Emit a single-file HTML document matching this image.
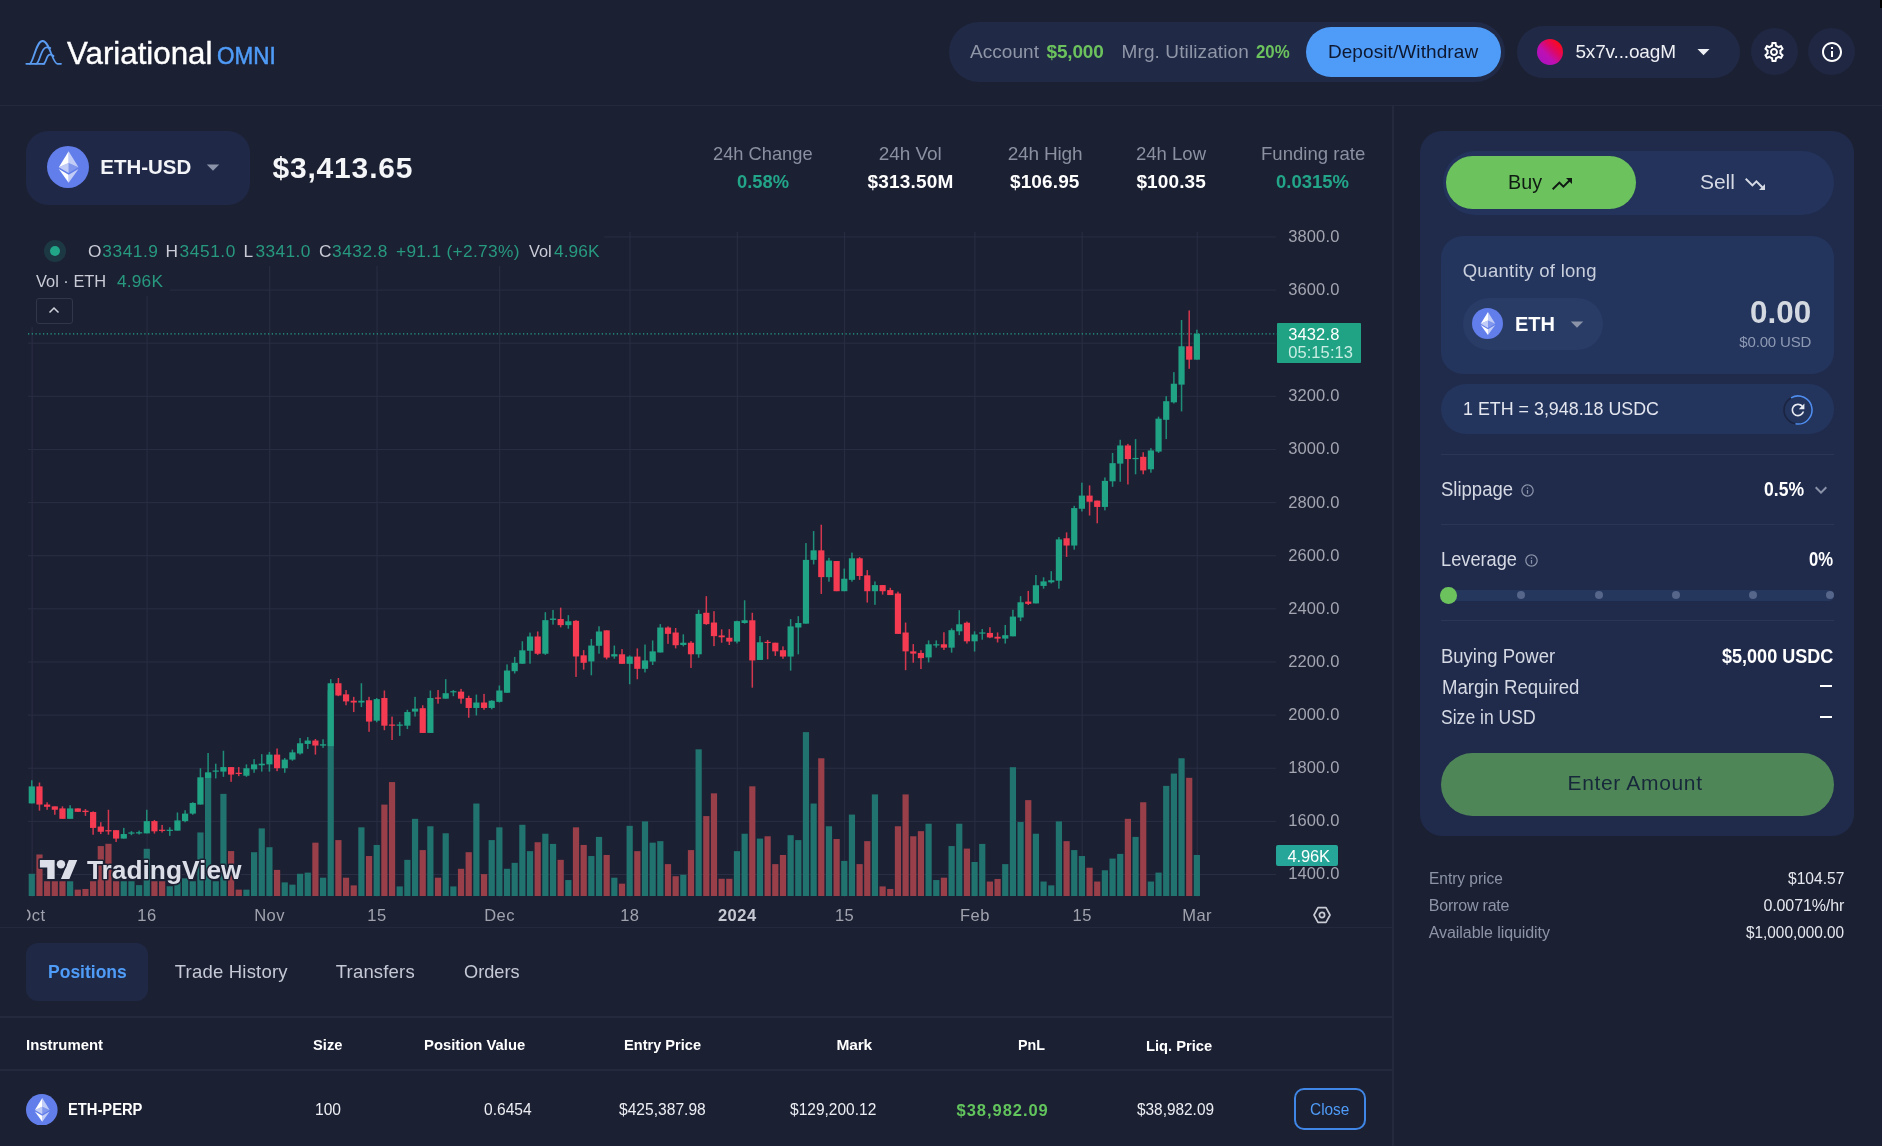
<!DOCTYPE html>
<html><head><meta charset="utf-8"><title>Variational OMNI</title>
<style>
html,body{margin:0;padding:0;background:#1c2033;}
body{width:1882px;height:1146px;position:relative;overflow:hidden;font-family:"Liberation Sans",sans-serif;}
.t{position:absolute;white-space:nowrap;line-height:1;}
.b{position:absolute;}
#w{position:absolute;left:0;top:0;width:1882px;height:1146px;will-change:transform;}
</style></head><body><div id="w">
<svg class="b" style="left:20.0px;top:32.4px;" width="60" height="40" viewBox="20 32 60 40"><g fill="none" stroke="#5a9cf2" stroke-width="1.8" stroke-linecap="round"><path d="M26.3 63.8H44.4"/><path d="M29.5 63.8C33.5 63.8 35.5 41 42.7 41C49.5 41 52.5 63.8 57.5 63.8H61"/><path d="M36 63.8C40 63.8 40.5 47.4 46.5 47.4C48 47.4 49.5 47.6 50.3 48.1"/><path d="M43 63.8C46.5 63.8 46 54.7 50 54.7C51.5 54.7 52.8 55.3 53.5 56"/></g></svg>
<div class="t" style="left:67.0px;top:37.8px;font-size:31.3px;font-weight:400;color:#ffffff;letter-spacing:-0.02px;-webkit-text-stroke:0.4px #ffffff;">Variational</div>
<div class="t" style="left:216.6px;top:44.1px;font-size:23.8px;font-weight:400;color:#4f9cf8;letter-spacing:0.00px;transform:scaleX(0.9447);transform-origin:left center;-webkit-text-stroke:0.5px #4f9cf8;">OMNI</div>
<div class="b" style="left:949.0px;top:22.0px;width:556.0px;height:60.0px;background:#202945;border-radius:30px;"></div>
<div class="t" style="left:970.0px;top:42.3px;font-size:19px;font-weight:400;color:#8f96a8;letter-spacing:0.06px;">Account</div>
<div class="t" style="left:1046.6px;top:42.3px;font-size:19px;font-weight:700;color:#6cc35e;letter-spacing:-0.18px;">$5,000</div>
<div class="t" style="left:1121.6px;top:42.3px;font-size:19px;font-weight:400;color:#8f96a8;letter-spacing:0.10px;">Mrg. Utilization</div>
<div class="t" style="left:1255.8px;top:42.3px;font-size:19px;font-weight:700;color:#6cc35e;letter-spacing:0.00px;transform:scaleX(0.8862);transform-origin:left center;">20%</div>
<div class="b" style="left:1306.0px;top:27.0px;width:194.5px;height:50.0px;background:#4f9cf8;border-radius:25px;"></div>
<div class="t" style="left:1327.9px;top:42.2px;font-size:19px;font-weight:400;color:#0e1830;letter-spacing:0.09px;">Deposit/Withdraw</div>
<div class="b" style="left:1517.0px;top:26.0px;width:223.0px;height:52.0px;background:#202945;border-radius:26px;"></div>
<div class="b" style="left:1537.0px;top:38.8px;width:26.0px;height:26.0px;background:linear-gradient(225deg,#ff0a14 12%,#e00860 38%,#bd10b4 62%,#a512c6 100%);border-radius:13px;"></div>
<div class="t" style="left:1575.4px;top:42.4px;font-size:19px;font-weight:400;color:#eef0f5;letter-spacing:-0.15px;">5x7v...oagM</div>
<svg class="b" style="left:1689.2px;top:37.0px;" width="29" height="29" viewBox="0 0 24 24"><path d="M7 10l5 5 5-5z" fill="#eef0f5"/></svg>
<div class="b" style="left:1750.8px;top:28.2px;width:47.0px;height:47.0px;background:#1f2742;border-radius:23.5px;"></div>
<svg class="b" style="left:1762.2px;top:39.7px;" width="24" height="24" viewBox="0 0 24 24"><path d="M19.43 12.98c.04-.32.07-.64.07-.98 0-.34-.03-.66-.07-.98l2.11-1.65c.19-.15.24-.42.12-.64l-2-3.46c-.09-.16-.26-.25-.44-.25-.06 0-.12.01-.17.03l-2.49 1c-.52-.4-1.08-.73-1.69-.98l-.38-2.65C14.46 2.18 14.25 2 14 2h-4c-.25 0-.46.18-.49.42l-.38 2.65c-.61.25-1.17.59-1.69.98l-2.49-1c-.06-.02-.12-.03-.18-.03-.17 0-.34.09-.43.25l-2 3.46c-.13.22-.07.49.12.64l2.11 1.65c-.04.32-.07.65-.07.98 0 .33.03.66.07.98l-2.11 1.65c-.19.15-.24.42-.12.64l2 3.46c.09.16.26.25.44.25.06 0 .12-.01.17-.03l2.49-1c.52.4 1.08.73 1.69.98l.38 2.65c.03.24.24.42.49.42h4c.25 0 .46-.18.49-.42l.38-2.65c.61-.25 1.17-.59 1.69-.98l2.49 1c.06.02.12.03.18.03.17 0 .34-.09.43-.25l2-3.46c.12-.22.07-.49-.12-.64l-2.11-1.65zm-1.98-1.71c.04.31.05.52.05.73 0 .21-.02.43-.05.73l-.14 1.13.89.7 1.08.84-.7 1.21-1.27-.51-1.04-.42-.9.68c-.43.32-.84.56-1.25.73l-1.06.43-.16 1.13-.2 1.35h-1.4l-.19-1.35-.16-1.13-1.06-.43c-.43-.18-.83-.41-1.23-.71l-.91-.7-1.06.43-1.27.51-.7-1.21 1.08-.84.89-.7-.14-1.13c-.03-.31-.05-.54-.05-.74s.02-.43.05-.73l.14-1.13-.89-.7-1.08-.84.7-1.21 1.27.51 1.04.42.9-.68c.43-.32.84-.56 1.25-.73l1.06-.43.16-1.13.2-1.35h1.39l.19 1.35.16 1.13 1.06.43c.43.18.83.41 1.23.71l.91.7 1.06-.43 1.27-.51.7 1.21-1.07.85-.89.7.14 1.13zM12 8c-2.21 0-4 1.79-4 4s1.79 4 4 4 4-1.79 4-4-1.79-4-4-4zm0 6c-1.1 0-2-.9-2-2s.9-2 2-2 2 .9 2 2-.9 2-2 2z" fill="#fff"/></svg>
<div class="b" style="left:1808.3px;top:28.2px;width:47.0px;height:47.0px;background:#1f2742;border-radius:23.5px;"></div>
<svg class="b" style="left:1820.0px;top:39.7px;" width="24" height="24" viewBox="0 0 24 24"><path d="M11 7h2v2h-2zm0 4h2v6h-2zm1-9C6.48 2 2 6.48 2 12s4.48 10 10 10 10-4.48 10-10S17.52 2 12 2zm0 18c-4.41 0-8-3.59-8-8s3.59-8 8-8 8 3.59 8 8-3.59 8-8 8z" fill="#fff"/></svg>
<div class="b" style="left:1880.0px;top:0.0px;width:2.0px;height:8.0px;background:#000;border-radius:0px;"></div>
<div class="b" style="left:0.0px;top:104.8px;width:1882.0px;height:1.4px;background:#25293e;border-radius:0px;"></div>
<div class="b" style="left:1392.3px;top:106.0px;width:1.5px;height:1040.0px;background:#25293e;border-radius:0px;"></div>
<div class="b" style="left:26.0px;top:130.5px;width:223.5px;height:74.0px;background:#1f2846;border-radius:22px;"></div>
<svg class="b" style="left:46.7px;top:146.0px;" width="42" height="42" viewBox="0 0 32 32"><circle cx="16" cy="16" r="16" fill="#627EEA"/><g fill="#FFF"><path fill-opacity=".602" d="M16.498 4v8.87l7.497 3.35z"/><path d="M16.498 4L9 16.22l7.498-3.35z"/><path fill-opacity=".602" d="M16.498 21.968v6.027L24 17.616z"/><path d="M16.498 27.995v-6.028L9 17.616z"/><path fill-opacity=".2" d="M16.498 20.573l7.497-4.353-7.497-3.348z"/><path fill-opacity=".602" d="M9 16.22l7.498 4.353v-7.701z"/></g></svg>
<div class="t" style="left:100.3px;top:156.8px;font-size:20.5px;font-weight:700;color:#f2f4f8;letter-spacing:-0.02px;">ETH-USD</div>
<svg class="b" style="left:197.9px;top:152.1px;" width="30" height="30" viewBox="0 0 24 24"><path d="M7 10l5 5 5-5z" fill="#8a93a8"/></svg>
<div class="t" style="left:272.4px;top:152.6px;font-size:30px;font-weight:700;color:#f5f6f8;letter-spacing:0.83px;">$3,413.65</div>
<div class="t" style="left:713.4px;top:144.1px;font-size:19px;font-weight:400;color:#8b90a0;letter-spacing:0.00px;transform:scaleX(0.9621);transform-origin:left center;">24h Change</div>
<div class="t" style="left:737.0px;top:172.0px;font-size:19px;font-weight:700;color:#22a588;letter-spacing:0.00px;transform:scaleX(0.9653);transform-origin:left center;">0.58%</div>
<div class="t" style="left:878.7px;top:144.1px;font-size:19px;font-weight:400;color:#8b90a0;letter-spacing:-0.06px;">24h Vol</div>
<div class="t" style="left:867.4px;top:172.0px;font-size:19px;font-weight:700;color:#ffffff;letter-spacing:0.21px;">$313.50M</div>
<div class="t" style="left:1007.7px;top:144.1px;font-size:19px;font-weight:400;color:#8b90a0;letter-spacing:-0.18px;">24h High</div>
<div class="t" style="left:1010.0px;top:172.0px;font-size:19px;font-weight:700;color:#ffffff;letter-spacing:0.12px;">$106.95</div>
<div class="t" style="left:1136.0px;top:144.1px;font-size:19px;font-weight:400;color:#8b90a0;letter-spacing:0.00px;transform:scaleX(0.9745);transform-origin:left center;">24h Low</div>
<div class="t" style="left:1136.4px;top:172.0px;font-size:19px;font-weight:700;color:#ffffff;letter-spacing:0.12px;">$100.35</div>
<div class="t" style="left:1260.5px;top:144.1px;font-size:19px;font-weight:400;color:#8b90a0;letter-spacing:0.00px;transform:scaleX(0.9768);transform-origin:left center;">Funding rate</div>
<div class="t" style="left:1276.0px;top:172.0px;font-size:19px;font-weight:700;color:#22a588;letter-spacing:0.00px;transform:scaleX(0.9733);transform-origin:left center;">0.0315%</div>
<svg class="b" style="left:0;top:0" width="1400" height="930" viewBox="0 0 1400 930"><defs><clipPath id="cp"><rect x="27" y="228" width="1250" height="670"/></clipPath></defs><g clip-path="url(#cp)"><rect x="28" y="236.44" width="1248" height="1" fill="#2a2e44"/><rect x="28" y="289.57" width="1248" height="1" fill="#2a2e44"/><rect x="28" y="342.70" width="1248" height="1" fill="#2a2e44"/><rect x="28" y="395.83" width="1248" height="1" fill="#2a2e44"/><rect x="28" y="448.96" width="1248" height="1" fill="#2a2e44"/><rect x="28" y="502.09" width="1248" height="1" fill="#2a2e44"/><rect x="28" y="555.22" width="1248" height="1" fill="#2a2e44"/><rect x="28" y="608.35" width="1248" height="1" fill="#2a2e44"/><rect x="28" y="661.48" width="1248" height="1" fill="#2a2e44"/><rect x="28" y="714.61" width="1248" height="1" fill="#2a2e44"/><rect x="28" y="767.74" width="1248" height="1" fill="#2a2e44"/><rect x="28" y="820.87" width="1248" height="1" fill="#2a2e44"/><rect x="28" y="874.00" width="1248" height="1" fill="#2a2e44"/><rect x="31.60" y="232" width="1" height="665" fill="#2a2e44"/><rect x="146.58" y="232" width="1" height="665" fill="#2a2e44"/><rect x="269.22" y="232" width="1" height="665" fill="#2a2e44"/><rect x="376.53" y="232" width="1" height="665" fill="#2a2e44"/><rect x="499.17" y="232" width="1" height="665" fill="#2a2e44"/><rect x="629.47" y="232" width="1" height="665" fill="#2a2e44"/><rect x="736.78" y="232" width="1" height="665" fill="#2a2e44"/><rect x="844.09" y="232" width="1" height="665" fill="#2a2e44"/><rect x="974.39" y="232" width="1" height="665" fill="#2a2e44"/><rect x="1081.70" y="232" width="1" height="665" fill="#2a2e44"/><rect x="1196.68" y="232" width="1" height="665" fill="#2a2e44"/><rect x="28.70" y="873.76" width="6.2" height="22.24" fill="#21736f"/><rect x="36.37" y="854.47" width="6.2" height="41.53" fill="#983f4a"/><rect x="44.03" y="881.25" width="6.2" height="14.75" fill="#983f4a"/><rect x="51.70" y="881.25" width="6.2" height="14.75" fill="#983f4a"/><rect x="59.36" y="881.25" width="6.2" height="14.75" fill="#983f4a"/><rect x="67.03" y="881.25" width="6.2" height="14.75" fill="#21736f"/><rect x="74.69" y="889.65" width="6.2" height="6.35" fill="#983f4a"/><rect x="82.36" y="888.96" width="6.2" height="7.04" fill="#983f4a"/><rect x="90.02" y="881.25" width="6.2" height="14.75" fill="#983f4a"/><rect x="97.69" y="846.07" width="6.2" height="49.93" fill="#983f4a"/><rect x="105.35" y="843.80" width="6.2" height="52.20" fill="#983f4a"/><rect x="113.02" y="881.25" width="6.2" height="14.75" fill="#983f4a"/><rect x="120.68" y="881.25" width="6.2" height="14.75" fill="#21736f"/><rect x="128.34" y="881.25" width="6.2" height="14.75" fill="#21736f"/><rect x="136.01" y="885.11" width="6.2" height="10.89" fill="#21736f"/><rect x="143.68" y="848.79" width="6.2" height="47.21" fill="#21736f"/><rect x="151.34" y="881.25" width="6.2" height="14.75" fill="#983f4a"/><rect x="159.01" y="881.25" width="6.2" height="14.75" fill="#983f4a"/><rect x="166.67" y="886.24" width="6.2" height="9.76" fill="#21736f"/><rect x="174.34" y="881.25" width="6.2" height="14.75" fill="#21736f"/><rect x="182.00" y="878.30" width="6.2" height="17.70" fill="#21736f"/><rect x="189.67" y="881.25" width="6.2" height="14.75" fill="#21736f"/><rect x="197.33" y="832.45" width="6.2" height="63.55" fill="#21736f"/><rect x="205.00" y="773.90" width="6.2" height="122.10" fill="#21736f"/><rect x="212.66" y="881.25" width="6.2" height="14.75" fill="#21736f"/><rect x="220.33" y="793.87" width="6.2" height="102.13" fill="#21736f"/><rect x="227.99" y="851.06" width="6.2" height="44.94" fill="#983f4a"/><rect x="235.66" y="889.65" width="6.2" height="6.35" fill="#983f4a"/><rect x="243.32" y="889.65" width="6.2" height="6.35" fill="#21736f"/><rect x="250.99" y="852.20" width="6.2" height="43.80" fill="#21736f"/><rect x="258.65" y="828.37" width="6.2" height="67.63" fill="#21736f"/><rect x="266.31" y="847.21" width="6.2" height="48.79" fill="#21736f"/><rect x="273.98" y="869.90" width="6.2" height="26.10" fill="#983f4a"/><rect x="281.64" y="882.38" width="6.2" height="13.62" fill="#21736f"/><rect x="289.31" y="884.65" width="6.2" height="11.35" fill="#21736f"/><rect x="296.97" y="873.76" width="6.2" height="22.24" fill="#21736f"/><rect x="304.64" y="872.62" width="6.2" height="23.38" fill="#21736f"/><rect x="312.31" y="842.67" width="6.2" height="53.33" fill="#983f4a"/><rect x="319.97" y="877.70" width="6.2" height="18.30" fill="#21736f"/><rect x="327.63" y="690.24" width="6.2" height="205.76" fill="#21736f"/><rect x="335.30" y="840.09" width="6.2" height="55.91" fill="#983f4a"/><rect x="342.96" y="877.70" width="6.2" height="18.30" fill="#983f4a"/><rect x="350.63" y="885.36" width="6.2" height="10.64" fill="#983f4a"/><rect x="358.30" y="827.33" width="6.2" height="68.67" fill="#21736f"/><rect x="365.96" y="856.03" width="6.2" height="39.97" fill="#983f4a"/><rect x="373.62" y="844.97" width="6.2" height="51.03" fill="#21736f"/><rect x="381.29" y="804.59" width="6.2" height="91.41" fill="#983f4a"/><rect x="388.95" y="782.06" width="6.2" height="113.94" fill="#983f4a"/><rect x="396.62" y="886.42" width="6.2" height="9.58" fill="#21736f"/><rect x="404.28" y="859.85" width="6.2" height="36.15" fill="#21736f"/><rect x="411.95" y="818.83" width="6.2" height="77.17" fill="#21736f"/><rect x="419.62" y="850.07" width="6.2" height="45.93" fill="#983f4a"/><rect x="427.28" y="826.27" width="6.2" height="69.73" fill="#21736f"/><rect x="434.94" y="877.70" width="6.2" height="18.30" fill="#983f4a"/><rect x="442.61" y="833.28" width="6.2" height="62.72" fill="#21736f"/><rect x="450.27" y="886.42" width="6.2" height="9.58" fill="#21736f"/><rect x="457.94" y="868.78" width="6.2" height="27.22" fill="#983f4a"/><rect x="465.61" y="852.20" width="6.2" height="43.80" fill="#983f4a"/><rect x="473.27" y="803.53" width="6.2" height="92.47" fill="#21736f"/><rect x="480.94" y="874.09" width="6.2" height="21.91" fill="#983f4a"/><rect x="488.60" y="840.09" width="6.2" height="55.91" fill="#21736f"/><rect x="496.26" y="827.33" width="6.2" height="68.67" fill="#21736f"/><rect x="503.93" y="868.78" width="6.2" height="27.22" fill="#21736f"/><rect x="511.59" y="862.83" width="6.2" height="33.17" fill="#21736f"/><rect x="519.26" y="824.78" width="6.2" height="71.22" fill="#21736f"/><rect x="526.92" y="851.14" width="6.2" height="44.86" fill="#21736f"/><rect x="534.59" y="842.21" width="6.2" height="53.79" fill="#983f4a"/><rect x="542.25" y="833.71" width="6.2" height="62.29" fill="#21736f"/><rect x="549.92" y="843.91" width="6.2" height="52.09" fill="#21736f"/><rect x="557.58" y="859.85" width="6.2" height="36.15" fill="#983f4a"/><rect x="565.25" y="880.04" width="6.2" height="15.96" fill="#21736f"/><rect x="572.91" y="827.33" width="6.2" height="68.67" fill="#983f4a"/><rect x="580.58" y="844.97" width="6.2" height="51.03" fill="#983f4a"/><rect x="588.24" y="856.03" width="6.2" height="39.97" fill="#21736f"/><rect x="595.91" y="836.90" width="6.2" height="59.10" fill="#21736f"/><rect x="603.57" y="854.96" width="6.2" height="41.04" fill="#983f4a"/><rect x="611.24" y="877.70" width="6.2" height="18.30" fill="#21736f"/><rect x="618.90" y="883.66" width="6.2" height="12.34" fill="#983f4a"/><rect x="626.57" y="825.84" width="6.2" height="70.16" fill="#21736f"/><rect x="634.23" y="851.14" width="6.2" height="44.86" fill="#983f4a"/><rect x="641.90" y="821.38" width="6.2" height="74.62" fill="#21736f"/><rect x="649.56" y="842.64" width="6.2" height="53.36" fill="#21736f"/><rect x="657.23" y="841.15" width="6.2" height="54.85" fill="#21736f"/><rect x="664.89" y="864.10" width="6.2" height="31.90" fill="#983f4a"/><rect x="672.56" y="876.22" width="6.2" height="19.78" fill="#983f4a"/><rect x="680.22" y="874.73" width="6.2" height="21.27" fill="#21736f"/><rect x="687.89" y="850.07" width="6.2" height="45.93" fill="#983f4a"/><rect x="695.55" y="749.33" width="6.2" height="146.67" fill="#21736f"/><rect x="703.22" y="816.07" width="6.2" height="79.93" fill="#983f4a"/><rect x="710.88" y="793.33" width="6.2" height="102.67" fill="#983f4a"/><rect x="718.55" y="878.77" width="6.2" height="17.23" fill="#983f4a"/><rect x="726.21" y="878.77" width="6.2" height="17.23" fill="#983f4a"/><rect x="733.88" y="851.14" width="6.2" height="44.86" fill="#21736f"/><rect x="741.54" y="833.71" width="6.2" height="62.29" fill="#21736f"/><rect x="749.21" y="786.31" width="6.2" height="109.69" fill="#983f4a"/><rect x="756.87" y="838.60" width="6.2" height="57.40" fill="#21736f"/><rect x="764.54" y="836.26" width="6.2" height="59.74" fill="#983f4a"/><rect x="772.20" y="864.10" width="6.2" height="31.90" fill="#983f4a"/><rect x="779.87" y="854.96" width="6.2" height="41.04" fill="#983f4a"/><rect x="787.53" y="835.20" width="6.2" height="60.80" fill="#21736f"/><rect x="795.20" y="840.09" width="6.2" height="55.91" fill="#21736f"/><rect x="802.86" y="732.11" width="6.2" height="163.89" fill="#21736f"/><rect x="810.53" y="803.53" width="6.2" height="92.47" fill="#21736f"/><rect x="818.19" y="758.26" width="6.2" height="137.74" fill="#983f4a"/><rect x="825.86" y="826.27" width="6.2" height="69.73" fill="#21736f"/><rect x="833.52" y="839.02" width="6.2" height="56.98" fill="#983f4a"/><rect x="841.19" y="860.91" width="6.2" height="35.09" fill="#21736f"/><rect x="848.85" y="814.58" width="6.2" height="81.42" fill="#21736f"/><rect x="856.52" y="864.10" width="6.2" height="31.90" fill="#983f4a"/><rect x="864.18" y="841.15" width="6.2" height="54.85" fill="#983f4a"/><rect x="871.85" y="794.39" width="6.2" height="101.61" fill="#21736f"/><rect x="879.51" y="886.42" width="6.2" height="9.58" fill="#983f4a"/><rect x="887.18" y="888.97" width="6.2" height="7.03" fill="#983f4a"/><rect x="894.84" y="826.27" width="6.2" height="69.73" fill="#983f4a"/><rect x="902.51" y="794.39" width="6.2" height="101.61" fill="#983f4a"/><rect x="910.17" y="836.26" width="6.2" height="59.74" fill="#983f4a"/><rect x="917.84" y="831.16" width="6.2" height="64.84" fill="#983f4a"/><rect x="925.50" y="823.72" width="6.2" height="72.28" fill="#21736f"/><rect x="933.17" y="880.04" width="6.2" height="15.96" fill="#21736f"/><rect x="940.83" y="877.70" width="6.2" height="18.30" fill="#983f4a"/><rect x="948.50" y="846.04" width="6.2" height="49.96" fill="#21736f"/><rect x="956.16" y="823.72" width="6.2" height="72.28" fill="#21736f"/><rect x="963.83" y="848.59" width="6.2" height="47.41" fill="#983f4a"/><rect x="971.49" y="861.98" width="6.2" height="34.02" fill="#21736f"/><rect x="979.16" y="843.91" width="6.2" height="52.09" fill="#21736f"/><rect x="986.82" y="881.53" width="6.2" height="14.47" fill="#983f4a"/><rect x="994.49" y="878.98" width="6.2" height="17.02" fill="#983f4a"/><rect x="1002.15" y="864.10" width="6.2" height="31.90" fill="#21736f"/><rect x="1009.82" y="767.18" width="6.2" height="128.82" fill="#21736f"/><rect x="1017.48" y="822.02" width="6.2" height="73.98" fill="#21736f"/><rect x="1025.15" y="800.13" width="6.2" height="95.87" fill="#983f4a"/><rect x="1032.82" y="833.71" width="6.2" height="62.29" fill="#21736f"/><rect x="1040.48" y="881.53" width="6.2" height="14.47" fill="#21736f"/><rect x="1048.15" y="885.36" width="6.2" height="10.64" fill="#21736f"/><rect x="1055.81" y="821.38" width="6.2" height="74.62" fill="#21736f"/><rect x="1063.48" y="841.15" width="6.2" height="54.85" fill="#983f4a"/><rect x="1071.14" y="850.07" width="6.2" height="45.93" fill="#21736f"/><rect x="1078.81" y="856.03" width="6.2" height="39.97" fill="#21736f"/><rect x="1086.47" y="867.72" width="6.2" height="28.28" fill="#983f4a"/><rect x="1094.13" y="881.53" width="6.2" height="14.47" fill="#983f4a"/><rect x="1101.80" y="870.27" width="6.2" height="25.73" fill="#21736f"/><rect x="1109.47" y="858.58" width="6.2" height="37.42" fill="#21736f"/><rect x="1117.13" y="853.90" width="6.2" height="42.10" fill="#21736f"/><rect x="1124.80" y="818.83" width="6.2" height="77.17" fill="#983f4a"/><rect x="1132.46" y="836.90" width="6.2" height="59.10" fill="#21736f"/><rect x="1140.12" y="802.25" width="6.2" height="93.75" fill="#983f4a"/><rect x="1147.79" y="881.53" width="6.2" height="14.47" fill="#21736f"/><rect x="1155.46" y="872.60" width="6.2" height="23.40" fill="#21736f"/><rect x="1163.12" y="785.89" width="6.2" height="110.11" fill="#21736f"/><rect x="1170.79" y="773.56" width="6.2" height="122.44" fill="#21736f"/><rect x="1178.45" y="758.26" width="6.2" height="137.74" fill="#21736f"/><rect x="1186.12" y="777.81" width="6.2" height="118.19" fill="#983f4a"/><rect x="1193.78" y="854.96" width="6.2" height="41.04" fill="#21736f"/><rect x="31.05" y="780.26" width="1.5" height="23.15" fill="#20a285" opacity="0.85"/><rect x="28.70" y="786.38" width="6.2" height="17.02" fill="#20a285"/><rect x="38.72" y="782.52" width="1.5" height="28.14" fill="#f53b52" opacity="0.85"/><rect x="36.37" y="786.38" width="6.2" height="18.16" fill="#f53b52"/><rect x="46.38" y="802.27" width="1.5" height="7.49" fill="#f53b52" opacity="0.85"/><rect x="44.03" y="804.54" width="6.2" height="2.27" fill="#f53b52"/><rect x="54.05" y="806.35" width="1.5" height="8.40" fill="#f53b52" opacity="0.85"/><rect x="51.70" y="806.35" width="6.2" height="3.40" fill="#f53b52"/><rect x="61.71" y="806.35" width="1.5" height="12.48" fill="#f53b52" opacity="0.85"/><rect x="59.36" y="808.40" width="6.2" height="10.44" fill="#f53b52"/><rect x="69.38" y="805.22" width="1.5" height="13.62" fill="#20a285" opacity="0.85"/><rect x="67.03" y="808.40" width="6.2" height="10.44" fill="#20a285"/><rect x="77.04" y="808.40" width="1.5" height="3.40" fill="#f53b52" opacity="0.85"/><rect x="74.69" y="808.40" width="6.2" height="3.40" fill="#f53b52"/><rect x="84.70" y="809.08" width="1.5" height="6.81" fill="#f53b52" opacity="0.85"/><rect x="82.36" y="810.67" width="6.2" height="1.36" fill="#f53b52"/><rect x="92.37" y="811.35" width="1.5" height="23.38" fill="#f53b52" opacity="0.85"/><rect x="90.02" y="812.03" width="6.2" height="15.89" fill="#f53b52"/><rect x="100.03" y="822.24" width="1.5" height="11.80" fill="#f53b52" opacity="0.85"/><rect x="97.69" y="826.55" width="6.2" height="5.22" fill="#f53b52"/><rect x="107.70" y="809.76" width="1.5" height="24.96" fill="#f53b52" opacity="0.85"/><rect x="105.35" y="830.18" width="6.2" height="1.20" fill="#f53b52"/><rect x="115.36" y="830.18" width="1.5" height="11.80" fill="#f53b52" opacity="0.85"/><rect x="113.02" y="830.18" width="6.2" height="8.40" fill="#f53b52"/><rect x="123.03" y="827.91" width="1.5" height="10.67" fill="#20a285" opacity="0.85"/><rect x="120.68" y="834.04" width="6.2" height="4.54" fill="#20a285"/><rect x="130.69" y="831.09" width="1.5" height="4.09" fill="#20a285" opacity="0.85"/><rect x="128.34" y="832.45" width="6.2" height="1.20" fill="#20a285"/><rect x="138.36" y="830.64" width="1.5" height="3.86" fill="#20a285" opacity="0.85"/><rect x="136.01" y="832.23" width="6.2" height="1.20" fill="#20a285"/><rect x="146.03" y="809.76" width="1.5" height="23.60" fill="#20a285" opacity="0.85"/><rect x="143.68" y="821.11" width="6.2" height="12.26" fill="#20a285"/><rect x="153.69" y="819.97" width="1.5" height="13.62" fill="#f53b52" opacity="0.85"/><rect x="151.34" y="821.11" width="6.2" height="10.21" fill="#f53b52"/><rect x="161.36" y="824.96" width="1.5" height="7.49" fill="#f53b52" opacity="0.85"/><rect x="159.01" y="829.73" width="6.2" height="1.20" fill="#f53b52"/><rect x="169.02" y="827.23" width="1.5" height="8.62" fill="#20a285" opacity="0.85"/><rect x="166.67" y="829.73" width="6.2" height="1.20" fill="#20a285"/><rect x="176.69" y="812.48" width="1.5" height="18.16" fill="#20a285" opacity="0.85"/><rect x="174.34" y="820.43" width="6.2" height="10.21" fill="#20a285"/><rect x="184.35" y="810.21" width="1.5" height="12.03" fill="#20a285" opacity="0.85"/><rect x="182.00" y="813.62" width="6.2" height="7.49" fill="#20a285"/><rect x="192.02" y="802.27" width="1.5" height="12.48" fill="#20a285" opacity="0.85"/><rect x="189.67" y="802.95" width="6.2" height="10.67" fill="#20a285"/><rect x="199.68" y="768.23" width="1.5" height="36.31" fill="#20a285" opacity="0.85"/><rect x="197.33" y="777.30" width="6.2" height="27.23" fill="#20a285"/><rect x="207.34" y="753.02" width="1.5" height="24.96" fill="#20a285" opacity="0.85"/><rect x="205.00" y="772.31" width="6.2" height="5.67" fill="#20a285"/><rect x="215.01" y="763.69" width="1.5" height="14.75" fill="#20a285" opacity="0.85"/><rect x="212.66" y="770.50" width="6.2" height="1.20" fill="#20a285"/><rect x="222.68" y="750.75" width="1.5" height="26.10" fill="#20a285" opacity="0.85"/><rect x="220.33" y="767.09" width="6.2" height="4.54" fill="#20a285"/><rect x="230.34" y="767.09" width="1.5" height="14.75" fill="#f53b52" opacity="0.85"/><rect x="227.99" y="767.09" width="6.2" height="7.49" fill="#f53b52"/><rect x="238.01" y="767.09" width="1.5" height="9.08" fill="#f53b52" opacity="0.85"/><rect x="235.66" y="772.77" width="6.2" height="1.20" fill="#f53b52"/><rect x="245.67" y="764.37" width="1.5" height="12.48" fill="#20a285" opacity="0.85"/><rect x="243.32" y="768.23" width="6.2" height="7.49" fill="#20a285"/><rect x="253.34" y="759.15" width="1.5" height="13.62" fill="#20a285" opacity="0.85"/><rect x="250.99" y="764.37" width="6.2" height="4.99" fill="#20a285"/><rect x="261.00" y="754.16" width="1.5" height="17.48" fill="#20a285" opacity="0.85"/><rect x="258.65" y="763.69" width="6.2" height="1.59" fill="#20a285"/><rect x="268.67" y="751.89" width="1.5" height="19.74" fill="#20a285" opacity="0.85"/><rect x="266.31" y="754.61" width="6.2" height="9.76" fill="#20a285"/><rect x="276.33" y="748.48" width="1.5" height="22.70" fill="#f53b52" opacity="0.85"/><rect x="273.98" y="754.61" width="6.2" height="13.62" fill="#f53b52"/><rect x="284.00" y="758.01" width="1.5" height="14.75" fill="#20a285" opacity="0.85"/><rect x="281.64" y="759.60" width="6.2" height="8.62" fill="#20a285"/><rect x="291.66" y="749.62" width="1.5" height="11.12" fill="#20a285" opacity="0.85"/><rect x="289.31" y="752.34" width="6.2" height="7.26" fill="#20a285"/><rect x="299.32" y="738.04" width="1.5" height="16.57" fill="#20a285" opacity="0.85"/><rect x="296.97" y="743.26" width="6.2" height="10.21" fill="#20a285"/><rect x="306.99" y="737.13" width="1.5" height="11.80" fill="#20a285" opacity="0.85"/><rect x="304.64" y="740.54" width="6.2" height="3.40" fill="#20a285"/><rect x="314.66" y="738.95" width="1.5" height="15.66" fill="#f53b52" opacity="0.85"/><rect x="312.31" y="740.54" width="6.2" height="4.99" fill="#f53b52"/><rect x="322.32" y="739.29" width="1.5" height="8.62" fill="#20a285" opacity="0.85"/><rect x="319.97" y="744.28" width="6.2" height="1.36" fill="#20a285"/><rect x="329.99" y="679.15" width="1.5" height="66.95" fill="#20a285" opacity="0.85"/><rect x="327.63" y="683.23" width="6.2" height="62.87" fill="#20a285"/><rect x="337.65" y="678.01" width="1.5" height="18.16" fill="#f53b52" opacity="0.85"/><rect x="335.30" y="683.23" width="6.2" height="12.26" fill="#f53b52"/><rect x="345.31" y="690.04" width="1.5" height="15.21" fill="#f53b52" opacity="0.85"/><rect x="342.96" y="694.35" width="6.2" height="7.04" fill="#f53b52"/><rect x="352.98" y="696.85" width="1.5" height="15.21" fill="#f53b52" opacity="0.85"/><rect x="350.63" y="700.71" width="6.2" height="1.82" fill="#f53b52"/><rect x="360.65" y="683.23" width="1.5" height="23.83" fill="#20a285" opacity="0.85"/><rect x="358.30" y="700.71" width="6.2" height="1.82" fill="#20a285"/><rect x="368.31" y="696.85" width="1.5" height="34.95" fill="#f53b52" opacity="0.85"/><rect x="365.96" y="700.26" width="6.2" height="21.33" fill="#f53b52"/><rect x="375.98" y="697.99" width="1.5" height="24.28" fill="#20a285" opacity="0.85"/><rect x="373.62" y="699.12" width="6.2" height="21.56" fill="#20a285"/><rect x="383.64" y="690.50" width="1.5" height="39.72" fill="#f53b52" opacity="0.85"/><rect x="381.29" y="697.99" width="6.2" height="27.69" fill="#f53b52"/><rect x="391.31" y="716.60" width="1.5" height="23.38" fill="#f53b52" opacity="0.85"/><rect x="388.95" y="724.54" width="6.2" height="1.20" fill="#f53b52"/><rect x="398.97" y="721.82" width="1.5" height="14.07" fill="#20a285" opacity="0.85"/><rect x="396.62" y="724.54" width="6.2" height="1.20" fill="#20a285"/><rect x="406.63" y="709.79" width="1.5" height="19.29" fill="#20a285" opacity="0.85"/><rect x="404.28" y="712.06" width="6.2" height="13.62" fill="#20a285"/><rect x="414.30" y="696.85" width="1.5" height="19.74" fill="#20a285" opacity="0.85"/><rect x="411.95" y="708.65" width="6.2" height="2.95" fill="#20a285"/><rect x="421.97" y="705.25" width="1.5" height="27.69" fill="#f53b52" opacity="0.85"/><rect x="419.62" y="708.20" width="6.2" height="24.74" fill="#f53b52"/><rect x="429.63" y="690.50" width="1.5" height="42.44" fill="#20a285" opacity="0.85"/><rect x="427.28" y="697.99" width="6.2" height="34.95" fill="#20a285"/><rect x="437.30" y="690.04" width="1.5" height="13.62" fill="#f53b52" opacity="0.85"/><rect x="434.94" y="697.53" width="6.2" height="1.20" fill="#f53b52"/><rect x="444.96" y="679.15" width="1.5" height="19.52" fill="#20a285" opacity="0.85"/><rect x="442.61" y="693.22" width="6.2" height="5.45" fill="#20a285"/><rect x="452.62" y="690.04" width="1.5" height="6.13" fill="#20a285" opacity="0.85"/><rect x="450.27" y="691.18" width="6.2" height="1.20" fill="#20a285"/><rect x="460.29" y="688.91" width="1.5" height="14.75" fill="#f53b52" opacity="0.85"/><rect x="457.94" y="691.63" width="6.2" height="7.04" fill="#f53b52"/><rect x="467.96" y="695.72" width="1.5" height="22.01" fill="#f53b52" opacity="0.85"/><rect x="465.61" y="697.99" width="6.2" height="9.99" fill="#f53b52"/><rect x="475.62" y="694.58" width="1.5" height="20.88" fill="#20a285" opacity="0.85"/><rect x="473.27" y="702.52" width="6.2" height="5.45" fill="#20a285"/><rect x="483.29" y="693.90" width="1.5" height="15.89" fill="#f53b52" opacity="0.85"/><rect x="480.94" y="702.52" width="6.2" height="5.45" fill="#f53b52"/><rect x="490.95" y="700.26" width="1.5" height="9.08" fill="#20a285" opacity="0.85"/><rect x="488.60" y="700.71" width="6.2" height="7.26" fill="#20a285"/><rect x="498.62" y="685.50" width="1.5" height="17.02" fill="#20a285" opacity="0.85"/><rect x="496.26" y="690.50" width="6.2" height="11.35" fill="#20a285"/><rect x="506.28" y="664.40" width="1.5" height="28.37" fill="#20a285" opacity="0.85"/><rect x="503.93" y="670.52" width="6.2" height="22.24" fill="#20a285"/><rect x="513.94" y="656.91" width="1.5" height="16.57" fill="#20a285" opacity="0.85"/><rect x="511.59" y="662.81" width="6.2" height="8.40" fill="#20a285"/><rect x="521.61" y="641.25" width="1.5" height="22.47" fill="#20a285" opacity="0.85"/><rect x="519.26" y="650.33" width="6.2" height="13.39" fill="#20a285"/><rect x="529.27" y="632.62" width="1.5" height="31.09" fill="#20a285" opacity="0.85"/><rect x="526.92" y="636.48" width="6.2" height="14.30" fill="#20a285"/><rect x="536.94" y="631.49" width="1.5" height="23.38" fill="#f53b52" opacity="0.85"/><rect x="534.59" y="636.48" width="6.2" height="17.25" fill="#f53b52"/><rect x="544.60" y="612.20" width="1.5" height="42.67" fill="#20a285" opacity="0.85"/><rect x="542.25" y="620.14" width="6.2" height="33.59" fill="#20a285"/><rect x="552.27" y="609.93" width="1.5" height="14.75" fill="#20a285" opacity="0.85"/><rect x="549.92" y="618.55" width="6.2" height="1.36" fill="#20a285"/><rect x="559.93" y="607.66" width="1.5" height="19.74" fill="#f53b52" opacity="0.85"/><rect x="557.58" y="619.01" width="6.2" height="6.13" fill="#f53b52"/><rect x="567.60" y="615.15" width="1.5" height="13.62" fill="#20a285" opacity="0.85"/><rect x="565.25" y="621.28" width="6.2" height="3.86" fill="#20a285"/><rect x="575.26" y="620.14" width="1.5" height="56.74" fill="#f53b52" opacity="0.85"/><rect x="572.91" y="620.82" width="6.2" height="35.63" fill="#f53b52"/><rect x="582.93" y="650.10" width="1.5" height="19.52" fill="#f53b52" opacity="0.85"/><rect x="580.58" y="655.32" width="6.2" height="7.49" fill="#f53b52"/><rect x="590.59" y="638.98" width="1.5" height="36.31" fill="#20a285" opacity="0.85"/><rect x="588.24" y="645.56" width="6.2" height="15.89" fill="#20a285"/><rect x="598.26" y="626.27" width="1.5" height="27.46" fill="#20a285" opacity="0.85"/><rect x="595.91" y="631.49" width="6.2" height="14.30" fill="#20a285"/><rect x="605.92" y="630.35" width="1.5" height="29.05" fill="#f53b52" opacity="0.85"/><rect x="603.57" y="630.35" width="6.2" height="27.23" fill="#f53b52"/><rect x="613.59" y="645.56" width="1.5" height="13.16" fill="#20a285" opacity="0.85"/><rect x="611.24" y="654.18" width="6.2" height="2.27" fill="#20a285"/><rect x="621.25" y="649.08" width="1.5" height="14.75" fill="#f53b52" opacity="0.85"/><rect x="618.90" y="654.30" width="6.2" height="9.53" fill="#f53b52"/><rect x="628.92" y="655.43" width="1.5" height="28.82" fill="#20a285" opacity="0.85"/><rect x="626.57" y="656.57" width="6.2" height="7.26" fill="#20a285"/><rect x="636.58" y="648.40" width="1.5" height="30.87" fill="#f53b52" opacity="0.85"/><rect x="634.23" y="656.57" width="6.2" height="12.26" fill="#f53b52"/><rect x="644.25" y="644.54" width="1.5" height="27.91" fill="#20a285" opacity="0.85"/><rect x="641.90" y="660.43" width="6.2" height="8.40" fill="#20a285"/><rect x="651.91" y="640.45" width="1.5" height="24.51" fill="#20a285" opacity="0.85"/><rect x="649.56" y="651.35" width="6.2" height="10.21" fill="#20a285"/><rect x="659.58" y="624.11" width="1.5" height="28.37" fill="#20a285" opacity="0.85"/><rect x="657.23" y="627.52" width="6.2" height="24.96" fill="#20a285"/><rect x="667.25" y="626.38" width="1.5" height="17.48" fill="#f53b52" opacity="0.85"/><rect x="664.89" y="627.52" width="6.2" height="6.35" fill="#f53b52"/><rect x="674.91" y="627.97" width="1.5" height="20.43" fill="#f53b52" opacity="0.85"/><rect x="672.56" y="632.51" width="6.2" height="12.71" fill="#f53b52"/><rect x="682.57" y="634.33" width="1.5" height="12.03" fill="#20a285" opacity="0.85"/><rect x="680.22" y="642.72" width="6.2" height="2.27" fill="#20a285"/><rect x="690.24" y="641.13" width="1.5" height="26.78" fill="#f53b52" opacity="0.85"/><rect x="687.89" y="642.72" width="6.2" height="11.57" fill="#f53b52"/><rect x="697.90" y="609.82" width="1.5" height="47.89" fill="#20a285" opacity="0.85"/><rect x="695.55" y="613.90" width="6.2" height="40.40" fill="#20a285"/><rect x="705.57" y="596.20" width="1.5" height="28.60" fill="#f53b52" opacity="0.85"/><rect x="703.22" y="612.77" width="6.2" height="11.35" fill="#f53b52"/><rect x="713.24" y="611.18" width="1.5" height="34.95" fill="#f53b52" opacity="0.85"/><rect x="710.88" y="622.52" width="6.2" height="13.62" fill="#f53b52"/><rect x="720.90" y="629.33" width="1.5" height="13.39" fill="#f53b52" opacity="0.85"/><rect x="718.55" y="635.46" width="6.2" height="1.82" fill="#f53b52"/><rect x="728.56" y="629.11" width="1.5" height="15.89" fill="#f53b52" opacity="0.85"/><rect x="726.21" y="637.73" width="6.2" height="3.86" fill="#f53b52"/><rect x="736.23" y="620.71" width="1.5" height="22.70" fill="#20a285" opacity="0.85"/><rect x="733.88" y="621.16" width="6.2" height="20.43" fill="#20a285"/><rect x="743.89" y="600.28" width="1.5" height="23.38" fill="#20a285" opacity="0.85"/><rect x="741.54" y="620.26" width="6.2" height="2.72" fill="#20a285"/><rect x="751.56" y="612.77" width="1.5" height="74.89" fill="#f53b52" opacity="0.85"/><rect x="749.21" y="620.26" width="6.2" height="40.17" fill="#f53b52"/><rect x="759.22" y="636.14" width="1.5" height="23.83" fill="#20a285" opacity="0.85"/><rect x="756.87" y="642.27" width="6.2" height="17.70" fill="#20a285"/><rect x="766.89" y="640.00" width="1.5" height="19.29" fill="#f53b52" opacity="0.85"/><rect x="764.54" y="641.82" width="6.2" height="1.20" fill="#f53b52"/><rect x="774.55" y="642.72" width="1.5" height="13.16" fill="#f53b52" opacity="0.85"/><rect x="772.20" y="642.72" width="6.2" height="8.62" fill="#f53b52"/><rect x="782.22" y="646.35" width="1.5" height="12.48" fill="#f53b52" opacity="0.85"/><rect x="779.87" y="650.21" width="6.2" height="6.35" fill="#f53b52"/><rect x="789.88" y="619.12" width="1.5" height="51.52" fill="#20a285" opacity="0.85"/><rect x="787.53" y="626.38" width="6.2" height="30.18" fill="#20a285"/><rect x="797.55" y="616.17" width="1.5" height="38.13" fill="#20a285" opacity="0.85"/><rect x="795.20" y="622.98" width="6.2" height="4.54" fill="#20a285"/><rect x="805.21" y="543.09" width="1.5" height="80.57" fill="#20a285" opacity="0.85"/><rect x="802.86" y="559.89" width="6.2" height="63.77" fill="#20a285"/><rect x="812.88" y="531.06" width="1.5" height="33.36" fill="#20a285" opacity="0.85"/><rect x="810.53" y="550.35" width="6.2" height="9.53" fill="#20a285"/><rect x="820.54" y="524.71" width="1.5" height="69.22" fill="#f53b52" opacity="0.85"/><rect x="818.19" y="550.35" width="6.2" height="26.78" fill="#f53b52"/><rect x="828.21" y="557.84" width="1.5" height="23.83" fill="#20a285" opacity="0.85"/><rect x="825.86" y="560.57" width="6.2" height="16.57" fill="#20a285"/><rect x="835.88" y="561.02" width="1.5" height="30.18" fill="#f53b52" opacity="0.85"/><rect x="833.52" y="561.02" width="6.2" height="30.18" fill="#f53b52"/><rect x="843.54" y="568.51" width="1.5" height="22.70" fill="#20a285" opacity="0.85"/><rect x="841.19" y="578.72" width="6.2" height="12.48" fill="#20a285"/><rect x="851.20" y="552.62" width="1.5" height="29.05" fill="#20a285" opacity="0.85"/><rect x="848.85" y="558.30" width="6.2" height="21.56" fill="#20a285"/><rect x="858.87" y="557.16" width="1.5" height="22.70" fill="#f53b52" opacity="0.85"/><rect x="856.52" y="558.30" width="6.2" height="17.70" fill="#f53b52"/><rect x="866.53" y="570.10" width="1.5" height="32.45" fill="#f53b52" opacity="0.85"/><rect x="864.18" y="575.32" width="6.2" height="15.89" fill="#f53b52"/><rect x="874.20" y="581.45" width="1.5" height="23.38" fill="#20a285" opacity="0.85"/><rect x="871.85" y="585.08" width="6.2" height="6.13" fill="#20a285"/><rect x="881.87" y="585.08" width="1.5" height="9.53" fill="#f53b52" opacity="0.85"/><rect x="879.51" y="585.08" width="6.2" height="6.13" fill="#f53b52"/><rect x="889.53" y="587.80" width="1.5" height="7.26" fill="#f53b52" opacity="0.85"/><rect x="887.18" y="590.07" width="6.2" height="4.99" fill="#f53b52"/><rect x="897.19" y="591.66" width="1.5" height="42.21" fill="#f53b52" opacity="0.85"/><rect x="894.84" y="593.48" width="6.2" height="40.40" fill="#f53b52"/><rect x="904.86" y="622.52" width="1.5" height="47.66" fill="#f53b52" opacity="0.85"/><rect x="902.51" y="632.51" width="6.2" height="18.84" fill="#f53b52"/><rect x="912.52" y="644.09" width="1.5" height="18.61" fill="#f53b52" opacity="0.85"/><rect x="910.17" y="651.35" width="6.2" height="2.27" fill="#f53b52"/><rect x="920.19" y="650.21" width="1.5" height="18.84" fill="#f53b52" opacity="0.85"/><rect x="917.84" y="652.94" width="6.2" height="5.22" fill="#f53b52"/><rect x="927.85" y="640.40" width="1.5" height="22.01" fill="#20a285" opacity="0.85"/><rect x="925.50" y="644.26" width="6.2" height="13.16" fill="#20a285"/><rect x="935.52" y="640.40" width="1.5" height="7.26" fill="#20a285" opacity="0.85"/><rect x="933.17" y="644.26" width="6.2" height="1.20" fill="#20a285"/><rect x="943.18" y="632.23" width="1.5" height="17.70" fill="#f53b52" opacity="0.85"/><rect x="940.83" y="644.26" width="6.2" height="3.40" fill="#f53b52"/><rect x="950.85" y="628.37" width="1.5" height="24.28" fill="#20a285" opacity="0.85"/><rect x="948.50" y="630.18" width="6.2" height="17.48" fill="#20a285"/><rect x="958.51" y="610.21" width="1.5" height="24.96" fill="#20a285" opacity="0.85"/><rect x="956.16" y="624.28" width="6.2" height="7.04" fill="#20a285"/><rect x="966.18" y="621.56" width="1.5" height="22.01" fill="#f53b52" opacity="0.85"/><rect x="963.83" y="622.70" width="6.2" height="18.61" fill="#f53b52"/><rect x="973.84" y="631.32" width="1.5" height="20.20" fill="#20a285" opacity="0.85"/><rect x="971.49" y="634.50" width="6.2" height="6.81" fill="#20a285"/><rect x="981.51" y="629.05" width="1.5" height="10.67" fill="#20a285" opacity="0.85"/><rect x="979.16" y="632.45" width="6.2" height="1.20" fill="#20a285"/><rect x="989.17" y="627.23" width="1.5" height="10.89" fill="#f53b52" opacity="0.85"/><rect x="986.82" y="632.91" width="6.2" height="4.54" fill="#f53b52"/><rect x="996.84" y="632.45" width="1.5" height="9.99" fill="#f53b52" opacity="0.85"/><rect x="994.49" y="636.77" width="6.2" height="1.82" fill="#f53b52"/><rect x="1004.50" y="624.96" width="1.5" height="18.61" fill="#20a285" opacity="0.85"/><rect x="1002.15" y="635.18" width="6.2" height="3.40" fill="#20a285"/><rect x="1012.17" y="609.76" width="1.5" height="26.55" fill="#20a285" opacity="0.85"/><rect x="1009.82" y="616.57" width="6.2" height="19.74" fill="#20a285"/><rect x="1019.83" y="596.14" width="1.5" height="24.96" fill="#20a285" opacity="0.85"/><rect x="1017.48" y="602.27" width="6.2" height="15.21" fill="#20a285"/><rect x="1027.50" y="590.92" width="1.5" height="14.07" fill="#f53b52" opacity="0.85"/><rect x="1025.15" y="601.59" width="6.2" height="2.27" fill="#f53b52"/><rect x="1035.16" y="575.04" width="1.5" height="28.37" fill="#20a285" opacity="0.85"/><rect x="1032.82" y="585.25" width="6.2" height="18.16" fill="#20a285"/><rect x="1042.83" y="577.30" width="1.5" height="11.35" fill="#20a285" opacity="0.85"/><rect x="1040.48" y="581.39" width="6.2" height="4.54" fill="#20a285"/><rect x="1050.50" y="571.18" width="1.5" height="12.26" fill="#20a285" opacity="0.85"/><rect x="1048.15" y="580.26" width="6.2" height="2.04" fill="#20a285"/><rect x="1058.16" y="537.13" width="1.5" height="51.52" fill="#20a285" opacity="0.85"/><rect x="1055.81" y="539.40" width="6.2" height="41.30" fill="#20a285"/><rect x="1065.83" y="532.37" width="1.5" height="24.51" fill="#f53b52" opacity="0.85"/><rect x="1063.48" y="538.27" width="6.2" height="7.26" fill="#f53b52"/><rect x="1073.49" y="505.82" width="1.5" height="43.80" fill="#20a285" opacity="0.85"/><rect x="1071.14" y="508.09" width="6.2" height="37.45" fill="#20a285"/><rect x="1081.15" y="482.67" width="1.5" height="28.82" fill="#20a285" opacity="0.85"/><rect x="1078.81" y="495.60" width="6.2" height="13.16" fill="#20a285"/><rect x="1088.82" y="485.39" width="1.5" height="30.18" fill="#f53b52" opacity="0.85"/><rect x="1086.47" y="495.60" width="6.2" height="6.13" fill="#f53b52"/><rect x="1096.48" y="500.60" width="1.5" height="22.70" fill="#f53b52" opacity="0.85"/><rect x="1094.13" y="500.60" width="6.2" height="6.35" fill="#f53b52"/><rect x="1104.15" y="477.45" width="1.5" height="32.91" fill="#20a285" opacity="0.85"/><rect x="1101.80" y="480.85" width="6.2" height="26.10" fill="#20a285"/><rect x="1111.82" y="452.95" width="1.5" height="33.82" fill="#20a285" opacity="0.85"/><rect x="1109.47" y="463.16" width="6.2" height="18.16" fill="#20a285"/><rect x="1119.48" y="439.79" width="1.5" height="41.99" fill="#20a285" opacity="0.85"/><rect x="1117.13" y="445.46" width="6.2" height="18.16" fill="#20a285"/><rect x="1127.14" y="443.87" width="1.5" height="40.62" fill="#f53b52" opacity="0.85"/><rect x="1124.80" y="445.46" width="6.2" height="13.62" fill="#f53b52"/><rect x="1134.81" y="439.11" width="1.5" height="35.18" fill="#20a285" opacity="0.85"/><rect x="1132.46" y="457.94" width="6.2" height="1.20" fill="#20a285"/><rect x="1142.47" y="452.27" width="1.5" height="22.01" fill="#f53b52" opacity="0.85"/><rect x="1140.12" y="456.81" width="6.2" height="13.62" fill="#f53b52"/><rect x="1150.14" y="448.18" width="1.5" height="24.51" fill="#20a285" opacity="0.85"/><rect x="1147.79" y="450.45" width="6.2" height="18.84" fill="#20a285"/><rect x="1157.81" y="416.64" width="1.5" height="36.31" fill="#20a285" opacity="0.85"/><rect x="1155.46" y="418.68" width="6.2" height="32.91" fill="#20a285"/><rect x="1165.47" y="396.21" width="1.5" height="42.89" fill="#20a285" opacity="0.85"/><rect x="1163.12" y="401.21" width="6.2" height="18.61" fill="#20a285"/><rect x="1173.13" y="372.16" width="1.5" height="31.32" fill="#20a285" opacity="0.85"/><rect x="1170.79" y="383.73" width="6.2" height="18.61" fill="#20a285"/><rect x="1180.80" y="319.96" width="1.5" height="91.46" fill="#20a285" opacity="0.85"/><rect x="1178.45" y="346.28" width="6.2" height="38.35" fill="#20a285"/><rect x="1188.46" y="310.43" width="1.5" height="58.33" fill="#f53b52" opacity="0.85"/><rect x="1186.12" y="346.28" width="6.2" height="13.39" fill="#f53b52"/><rect x="1196.13" y="329.72" width="1.5" height="29.96" fill="#20a285" opacity="0.85"/><rect x="1193.78" y="333.80" width="6.2" height="25.87" fill="#20a285"/><line x1="28" y1="333.8" x2="1277" y2="333.8" stroke="#20a285" stroke-width="1.3" stroke-dasharray="1.25 2.5"/></g></svg>
<div class="t" style="left:1288.2px;top:227.8px;font-size:16.5px;font-weight:400;color:#a3a6b1;letter-spacing:0.13px;">3800.0</div>
<div class="t" style="left:1288.2px;top:280.9px;font-size:16.5px;font-weight:400;color:#a3a6b1;letter-spacing:0.13px;">3600.0</div>
<div class="t" style="left:1288.2px;top:334.1px;font-size:16.5px;font-weight:400;color:#a3a6b1;letter-spacing:0.13px;">3400.0</div>
<div class="t" style="left:1288.2px;top:387.2px;font-size:16.5px;font-weight:400;color:#a3a6b1;letter-spacing:0.13px;">3200.0</div>
<div class="t" style="left:1288.2px;top:440.3px;font-size:16.5px;font-weight:400;color:#a3a6b1;letter-spacing:0.13px;">3000.0</div>
<div class="t" style="left:1288.2px;top:493.5px;font-size:16.5px;font-weight:400;color:#a3a6b1;letter-spacing:0.13px;">2800.0</div>
<div class="t" style="left:1288.2px;top:546.6px;font-size:16.5px;font-weight:400;color:#a3a6b1;letter-spacing:0.13px;">2600.0</div>
<div class="t" style="left:1288.2px;top:599.7px;font-size:16.5px;font-weight:400;color:#a3a6b1;letter-spacing:0.13px;">2400.0</div>
<div class="t" style="left:1288.2px;top:652.9px;font-size:16.5px;font-weight:400;color:#a3a6b1;letter-spacing:0.13px;">2200.0</div>
<div class="t" style="left:1288.2px;top:706.0px;font-size:16.5px;font-weight:400;color:#a3a6b1;letter-spacing:0.13px;">2000.0</div>
<div class="t" style="left:1288.2px;top:759.1px;font-size:16.5px;font-weight:400;color:#a3a6b1;letter-spacing:0.13px;">1800.0</div>
<div class="t" style="left:1288.2px;top:812.2px;font-size:16.5px;font-weight:400;color:#a3a6b1;letter-spacing:0.13px;">1600.0</div>
<div class="t" style="left:1288.2px;top:865.4px;font-size:16.5px;font-weight:400;color:#a3a6b1;letter-spacing:0.13px;">1400.0</div>
<div class="b" style="left:1276.5px;top:323.0px;width:84.5px;height:39.5px;background:#20a384;border-radius:1px;"></div>
<div class="t" style="left:1288.2px;top:326.2px;font-size:16.5px;font-weight:400;color:#fff;letter-spacing:0.13px;">3432.8</div>
<div class="t" style="left:1288.2px;top:343.7px;font-size:16.5px;font-weight:400;color:#c9ece3;letter-spacing:0.08px;">05:15:13</div>
<div class="b" style="left:1276.0px;top:845.1px;width:62.0px;height:21.3px;background:#26a698;border-radius:2px;"></div>
<div class="t" style="left:1287.5px;top:847.9px;font-size:16.5px;font-weight:400;color:#fff;letter-spacing:-0.15px;">4.96K</div>
<div class="t" style="left:18.5px;top:906.6px;font-size:16.5px;font-weight:400;color:#a0a3ae;letter-spacing:0.5px;clip-path:inset(0 0 0 8.5px);">Oct</div>
<div class="t" style="left:137.3px;top:906.6px;font-size:16.5px;font-weight:400;color:#a0a3ae;letter-spacing:0.5px;">16</div>
<div class="t" style="left:254.2px;top:906.6px;font-size:16.5px;font-weight:400;color:#a0a3ae;letter-spacing:0.5px;">Nov</div>
<div class="t" style="left:367.3px;top:906.6px;font-size:16.5px;font-weight:400;color:#a0a3ae;letter-spacing:0.5px;">15</div>
<div class="t" style="left:484.2px;top:906.6px;font-size:16.5px;font-weight:400;color:#a0a3ae;letter-spacing:0.5px;">Dec</div>
<div class="t" style="left:620.2px;top:906.6px;font-size:16.5px;font-weight:400;color:#a0a3ae;letter-spacing:0.5px;">18</div>
<div class="t" style="left:717.9px;top:906.6px;font-size:16.5px;font-weight:700;color:#c5c8d2;letter-spacing:0.5px;">2024</div>
<div class="t" style="left:834.9px;top:906.6px;font-size:16.5px;font-weight:400;color:#a0a3ae;letter-spacing:0.5px;">15</div>
<div class="t" style="left:959.9px;top:906.6px;font-size:16.5px;font-weight:400;color:#a0a3ae;letter-spacing:0.5px;">Feb</div>
<div class="t" style="left:1072.5px;top:906.6px;font-size:16.5px;font-weight:400;color:#a0a3ae;letter-spacing:0.5px;">15</div>
<div class="t" style="left:1182.2px;top:906.6px;font-size:16.5px;font-weight:400;color:#a0a3ae;letter-spacing:0.5px;">Mar</div>
<svg class="b" style="left:1311.0px;top:904.0px;" width="22" height="22" viewBox="0 0 22 22"><g fill="none" stroke="#c8cbd4" stroke-width="1.7"><path d="M7 3.6h8l4 7.4-4 7.4H7L3 11z" stroke-linejoin="round"/><circle cx="11" cy="11" r="2.6"/></g></svg>
<div class="b" style="left:27.0px;top:232.0px;width:577.0px;height:34.0px;background:#1c2033;border-radius:0px;"></div>
<div class="b" style="left:27.0px;top:266.0px;width:143.0px;height:30.0px;background:#1c2033;border-radius:0px;"></div>
<div class="b" style="left:27.0px;top:296.0px;width:48.0px;height:31.0px;background:#1c2033;border-radius:0px;"></div>
<div class="b" style="left:44.0px;top:239.5px;width:22.0px;height:22.0px;background:rgba(34,166,136,0.18);border-radius:11px;"></div>
<div class="b" style="left:50.0px;top:245.5px;width:10.0px;height:10.0px;background:#22a688;border-radius:5px;"></div>
<div class="t" style="left:88.1px;top:242.5px;font-size:17.3px;font-weight:400;color:#c9ccd6;letter-spacing:0.00px;">O</div>
<div class="t" style="left:102.3px;top:242.5px;font-size:17.3px;font-weight:400;color:#27997f;letter-spacing:0.56px;">3341.9</div>
<div class="t" style="left:165.5px;top:242.5px;font-size:17.3px;font-weight:400;color:#c9ccd6;letter-spacing:0.00px;">H</div>
<div class="t" style="left:179.6px;top:242.5px;font-size:17.3px;font-weight:400;color:#27997f;letter-spacing:0.58px;">3451.0</div>
<div class="t" style="left:243.6px;top:242.5px;font-size:17.3px;font-weight:400;color:#c9ccd6;letter-spacing:0.00px;">L</div>
<div class="t" style="left:255.5px;top:242.5px;font-size:17.3px;font-weight:400;color:#27997f;letter-spacing:0.42px;">3341.0</div>
<div class="t" style="left:319.0px;top:242.5px;font-size:17.3px;font-weight:400;color:#c9ccd6;letter-spacing:0.00px;">C</div>
<div class="t" style="left:332.0px;top:242.5px;font-size:17.3px;font-weight:400;color:#27997f;letter-spacing:0.52px;">3432.8</div>
<div class="t" style="left:396.0px;top:242.5px;font-size:17.3px;font-weight:400;color:#27997f;letter-spacing:0.33px;">+91.1 (+2.73%)</div>
<div class="t" style="left:528.8px;top:242.5px;font-size:17.3px;font-weight:400;color:#c9ccd6;letter-spacing:0.00px;transform:scaleX(0.9439);transform-origin:left center;">Vol</div>
<div class="t" style="left:554.0px;top:242.5px;font-size:17.3px;font-weight:400;color:#27997f;letter-spacing:0.07px;">4.96K</div>
<div class="t" style="left:36.4px;top:272.9px;font-size:17.3px;font-weight:400;color:#c9ccd6;letter-spacing:0.00px;transform:scaleX(0.9497);transform-origin:left center;">Vol · ETH</div>
<div class="t" style="left:117.0px;top:272.9px;font-size:17.3px;font-weight:400;color:#27997f;letter-spacing:0.20px;">4.96K</div>
<div class="b" style="left:35.8px;top:297.8px;width:35px;height:24.4px;border:1px solid #32364b;border-radius:3px;box-sizing:content-box"></div>
<svg class="b" style="left:44.3px;top:300.3px;" width="20" height="20" viewBox="0 0 20 20"><path d="M5.5 12.5L10 8l4.5 4.5" fill="none" stroke="#d0d3dc" stroke-width="1.5"/></svg>
<svg class="b" style="left:30.0px;top:850.0px;" width="230" height="45" viewBox="30 850 230 45"><g stroke="#1c2033" stroke-width="3.2" stroke-linejoin="round" paint-order="stroke" fill="#dcdee8"><g transform="translate(39.9,855.8) scale(1.053)"><path d="M14 22H7V11H0V4h14v18zM28 22h-8l7.5-18h8L28 22z"/><circle cx="20" cy="8" r="4"/></g><text x="87" y="879" font-family="Liberation Sans, sans-serif" font-weight="700" font-size="26.5" textLength="154.5" lengthAdjust="spacingAndGlyphs">TradingView</text></g></svg>
<div class="b" style="left:0.0px;top:926.6px;width:1393.0px;height:1.4px;background:#25293e;border-radius:0px;"></div>
<div class="b" style="left:26.0px;top:942.5px;width:122.0px;height:58.5px;background:#1f2946;border-radius:12px;"></div>
<div class="t" style="left:47.6px;top:962.8px;font-size:18.5px;font-weight:700;color:#4f9cf8;letter-spacing:0.00px;transform:scaleX(0.9465);transform-origin:left center;">Positions</div>
<div class="t" style="left:174.8px;top:962.8px;font-size:18.5px;font-weight:400;color:#c5c9d6;letter-spacing:0.20px;">Trade History</div>
<div class="t" style="left:335.8px;top:962.8px;font-size:18.5px;font-weight:400;color:#c5c9d6;letter-spacing:0.18px;">Transfers</div>
<div class="t" style="left:463.7px;top:962.8px;font-size:18.5px;font-weight:400;color:#c5c9d6;letter-spacing:0.00px;transform:scaleX(0.9817);transform-origin:left center;">Orders</div>
<div class="b" style="left:0.0px;top:1016.3px;width:1393.0px;height:1.4px;background:#25293e;border-radius:0px;"></div>
<div class="b" style="left:0.0px;top:1069.3px;width:1393.0px;height:1.4px;background:#25293e;border-radius:0px;"></div>
<div class="t" style="left:26.0px;top:1037.1px;font-size:15.5px;font-weight:700;color:#ffffff;letter-spacing:0.00px;transform:scaleX(0.9615);transform-origin:left center;">Instrument</div>
<div class="t" style="left:313.1px;top:1037.1px;font-size:15.5px;font-weight:700;color:#ffffff;letter-spacing:0.00px;transform:scaleX(0.9479);transform-origin:left center;">Size</div>
<div class="t" style="left:424.3px;top:1037.1px;font-size:15.5px;font-weight:700;color:#ffffff;letter-spacing:0.00px;transform:scaleX(0.9553);transform-origin:left center;">Position Value</div>
<div class="t" style="left:624.0px;top:1037.1px;font-size:15.5px;font-weight:700;color:#ffffff;letter-spacing:0.00px;transform:scaleX(0.9408);transform-origin:left center;">Entry Price</div>
<div class="t" style="left:836.5px;top:1037.1px;font-size:15.5px;font-weight:700;color:#ffffff;letter-spacing:-0.16px;">Mark</div>
<div class="t" style="left:1018.0px;top:1037.1px;font-size:15.5px;font-weight:700;color:#ffffff;letter-spacing:0.00px;transform:scaleX(0.9223);transform-origin:left center;">PnL</div>
<div class="t" style="left:1146.3px;top:1038.3px;font-size:15.5px;font-weight:700;color:#ffffff;letter-spacing:0.00px;transform:scaleX(0.9488);transform-origin:left center;">Liq. Price</div>
<svg class="b" style="left:26.0px;top:1093.9px;" width="31.6" height="31.6" viewBox="0 0 32 32"><circle cx="16" cy="16" r="16" fill="#627EEA"/><g fill="#FFF"><path fill-opacity=".602" d="M16.498 4v8.87l7.497 3.35z"/><path d="M16.498 4L9 16.22l7.498-3.35z"/><path fill-opacity=".602" d="M16.498 21.968v6.027L24 17.616z"/><path d="M16.498 27.995v-6.028L9 17.616z"/><path fill-opacity=".2" d="M16.498 20.573l7.497-4.353-7.497-3.348z"/><path fill-opacity=".602" d="M9 16.22l7.498 4.353v-7.701z"/></g></svg>
<div class="t" style="left:68.0px;top:1102.0px;font-size:16px;font-weight:700;color:#fff;letter-spacing:0.00px;transform:scaleX(0.9197);transform-origin:left center;">ETH-PERP</div>
<div class="t" style="left:315.4px;top:1102.0px;font-size:16px;font-weight:400;color:#eceef3;letter-spacing:0.00px;transform:scaleX(0.9741);transform-origin:left center;">100</div>
<div class="t" style="left:483.8px;top:1102.0px;font-size:16px;font-weight:400;color:#eceef3;letter-spacing:0.00px;transform:scaleX(0.9728);transform-origin:left center;">0.6454</div>
<div class="t" style="left:619.2px;top:1102.0px;font-size:16px;font-weight:400;color:#eceef3;letter-spacing:0.00px;transform:scaleX(0.9756);transform-origin:left center;">$425,387.98</div>
<div class="t" style="left:789.6px;top:1102.0px;font-size:16px;font-weight:400;color:#eceef3;letter-spacing:0.00px;transform:scaleX(0.9700);transform-origin:left center;">$129,200.12</div>
<div class="t" style="left:956.6px;top:1102.2px;font-size:16.5px;font-weight:700;color:#62c45c;letter-spacing:0.95px;">$38,982.09</div>
<div class="t" style="left:1136.6px;top:1102.0px;font-size:16px;font-weight:400;color:#eceef3;letter-spacing:0.00px;transform:scaleX(0.9617);transform-origin:left center;">$38,982.09</div>
<div class="b" style="left:1294.3px;top:1088.3px;width:67.5px;height:38px;border:2px solid #3f86e6;border-radius:10px;box-sizing:content-box"></div>
<div class="t" style="left:1310.3px;top:1101.8px;font-size:16px;font-weight:400;color:#4f9cf8;letter-spacing:0.00px;transform:scaleX(0.9632);transform-origin:left center;">Close</div>
<div class="b" style="left:1420.0px;top:130.5px;width:433.5px;height:705.5px;background:#202b4c;border-radius:22px;"></div>
<div class="b" style="left:1443.0px;top:150.5px;width:391.3px;height:64.8px;background:#23335b;border-radius:33px;"></div>
<div class="b" style="left:1446.0px;top:156.2px;width:190.0px;height:53.3px;background:#6cc35e;border-radius:27px;"></div>
<div class="t" style="left:1508.0px;top:171.0px;font-size:21px;font-weight:400;color:#0f1a12;letter-spacing:0.00px;transform:scaleX(0.9396);transform-origin:left center;">Buy</div>
<svg class="b" style="left:1549.8px;top:172.2px;" width="24" height="24" viewBox="0 0 24 24"><path d="M16 6l2.29 2.29-4.88 4.88-4-4L2 16.59 3.41 18l6-6 4 4 6.3-6.29L22 12V6z" fill="#0f1a12"/></svg>
<div class="t" style="left:1700.0px;top:171.0px;font-size:21px;font-weight:400;color:#d5d9e4;letter-spacing:-0.07px;">Sell</div>
<svg class="b" style="left:1742.5px;top:171.5px;" width="24" height="24" viewBox="0 0 24 24"><path d="M16 18l2.29-2.29-4.88-4.88-4 4L2 7.41 3.41 6l6 6 4-4 6.3 6.29L22 12v6z" fill="#d5d9e4"/></svg>
<div class="b" style="left:1441.0px;top:235.5px;width:393.3px;height:138.0px;background:#24355d;border-radius:22px;"></div>
<div class="t" style="left:1462.7px;top:261.5px;font-size:18.5px;font-weight:400;color:#c9cfdd;letter-spacing:0.28px;">Quantity of long</div>
<div class="b" style="left:1462.7px;top:297.5px;width:140.6px;height:52.5px;background:#293c66;border-radius:26px;"></div>
<svg class="b" style="left:1472.0px;top:307.9px;" width="31" height="31" viewBox="0 0 32 32"><circle cx="16" cy="16" r="16" fill="#627EEA"/><g fill="#FFF"><path fill-opacity=".602" d="M16.498 4v8.87l7.497 3.35z"/><path d="M16.498 4L9 16.22l7.498-3.35z"/><path fill-opacity=".602" d="M16.498 21.968v6.027L24 17.616z"/><path d="M16.498 27.995v-6.028L9 17.616z"/><path fill-opacity=".2" d="M16.498 20.573l7.497-4.353-7.497-3.348z"/><path fill-opacity=".602" d="M9 16.22l7.498 4.353v-7.701z"/></g></svg>
<div class="t" style="left:1514.7px;top:313.1px;font-size:21px;font-weight:700;color:#fff;letter-spacing:0.00px;transform:scaleX(0.9524);transform-origin:left center;">ETH</div>
<svg class="b" style="left:1562.0px;top:308.9px;" width="30" height="30" viewBox="0 0 24 24"><path d="M7 10l5 5 5-5z" fill="#8a93a8"/></svg>
<div class="t" style="left:1750.2px;top:296.3px;font-size:32px;font-weight:700;color:#d4d8e0;letter-spacing:0.00px;transform:scaleX(0.9811);transform-origin:left center;">0.00</div>
<div class="t" style="left:1739.3px;top:334.1px;font-size:15px;font-weight:400;color:#8e9ab4;letter-spacing:-0.17px;">$0.00 USD</div>
<div class="b" style="left:1441.0px;top:384.0px;width:392.5px;height:50.0px;background:#24355d;border-radius:25px;"></div>
<div class="t" style="left:1462.7px;top:399.6px;font-size:18.5px;font-weight:400;color:#e3e6ef;letter-spacing:0.00px;transform:scaleX(0.9651);transform-origin:left center;">1 ETH = 3,948.18 USDC</div>
<svg class="b" style="left:1782.0px;top:393.5px;" width="32" height="32" viewBox="0 0 32 32"><circle cx="16" cy="16" r="14" fill="none" stroke="#1b2440" stroke-width="1.6"/><path d="M9 3.9A14 14 0 1 1 13.5 29.8" fill="none" stroke="#4f8ef0" stroke-width="1.6"/><g transform="translate(6.4,6.4) scale(0.8)"><path d="M17.65 6.35C16.2 4.9 14.21 4 12 4c-4.42 0-7.99 3.58-7.99 8s3.57 8 7.99 8c3.73 0 6.84-2.55 7.73-6h-2.08c-.82 2.33-3.04 4-5.65 4-3.31 0-6-2.69-6-6s2.69-6 6-6c1.66 0 3.14.69 4.22 1.78L13 11h7V4l-2.35 2.35z" fill="#e8ebf2"/></g></svg>
<div class="b" style="left:1441.0px;top:453.5px;width:392.5px;height:1.0px;background:#2a3558;border-radius:0px;"></div>
<div class="t" style="left:1441.4px;top:480.4px;font-size:19.5px;font-weight:400;color:#d5d9e4;letter-spacing:0.00px;transform:scaleX(0.9487);transform-origin:left center;">Slippage</div>
<svg class="b" style="left:1520.0px;top:483.1px;" width="15" height="15" viewBox="0 0 24 24"><path d="M11 7h2v2h-2zm0 4h2v6h-2zm1-9C6.48 2 2 6.48 2 12s4.48 10 10 10 10-4.48 10-10S17.52 2 12 2zm0 18c-4.41 0-8-3.59-8-8s3.59-8 8-8 8 3.59 8 8-3.59 8-8 8z" fill="#8a93a8"/></svg>
<div class="t" style="left:1763.6px;top:480.4px;font-size:19.5px;font-weight:700;color:#fff;letter-spacing:0.00px;transform:scaleX(0.9000);transform-origin:left center;">0.5%</div>
<svg class="b" style="left:1808.5px;top:478.3px;" width="24" height="24" viewBox="0 0 24 24"><path d="M16.59 8.59L12 13.17 7.41 8.59 6 10l6 6 6-6z" fill="#8a93a8"/></svg>
<div class="b" style="left:1441.0px;top:523.7px;width:392.5px;height:1.0px;background:#2a3558;border-radius:0px;"></div>
<div class="t" style="left:1441.4px;top:550.4px;font-size:19.5px;font-weight:400;color:#d5d9e4;letter-spacing:0.00px;transform:scaleX(0.9347);transform-origin:left center;">Leverage</div>
<svg class="b" style="left:1524.0px;top:552.5px;" width="15" height="15" viewBox="0 0 24 24"><path d="M11 7h2v2h-2zm0 4h2v6h-2zm1-9C6.48 2 2 6.48 2 12s4.48 10 10 10 10-4.48 10-10S17.52 2 12 2zm0 18c-4.41 0-8-3.59-8-8s3.59-8 8-8 8 3.59 8 8-3.59 8-8 8z" fill="#8a93a8"/></svg>
<div class="t" style="left:1808.6px;top:550.4px;font-size:19.5px;font-weight:700;color:#fff;letter-spacing:0.00px;transform:scaleX(0.8551);transform-origin:left center;">0%</div>
<div class="b" style="left:1443.0px;top:590.0px;width:391.0px;height:10.8px;background:#26375e;border-radius:5.4px;"></div>
<div class="b" style="left:1517.4px;top:591.4px;width:8.0px;height:8.0px;background:#56658a;border-radius:4px;"></div>
<div class="b" style="left:1594.5px;top:591.4px;width:8.0px;height:8.0px;background:#56658a;border-radius:4px;"></div>
<div class="b" style="left:1671.5px;top:591.4px;width:8.0px;height:8.0px;background:#56658a;border-radius:4px;"></div>
<div class="b" style="left:1748.6px;top:591.4px;width:8.0px;height:8.0px;background:#56658a;border-radius:4px;"></div>
<div class="b" style="left:1825.7px;top:591.4px;width:8.0px;height:8.0px;background:#56658a;border-radius:4px;"></div>
<div class="b" style="left:1440.0px;top:587.2px;width:16.5px;height:16.5px;background:#6cc35e;border-radius:8.3px;"></div>
<div class="b" style="left:1441.0px;top:620.2px;width:392.5px;height:1.0px;background:#2a3558;border-radius:0px;"></div>
<div class="t" style="left:1441.4px;top:647.0px;font-size:19.5px;font-weight:400;color:#d5d9e4;letter-spacing:0.00px;transform:scaleX(0.9484);transform-origin:left center;">Buying Power</div>
<div class="t" style="left:1722.2px;top:647.0px;font-size:19.5px;font-weight:700;color:#fff;letter-spacing:0.00px;transform:scaleX(0.9251);transform-origin:left center;">$5,000 USDC</div>
<div class="t" style="left:1441.9px;top:677.6px;font-size:19.5px;font-weight:400;color:#d5d9e4;letter-spacing:0.00px;transform:scaleX(0.9532);transform-origin:left center;">Margin Required</div>
<div class="b" style="left:1819.6px;top:685.2px;width:12.5px;height:2.0px;background:#fff;border-radius:0px;"></div>
<div class="t" style="left:1440.8px;top:707.8px;font-size:19.5px;font-weight:400;color:#d5d9e4;letter-spacing:0.00px;transform:scaleX(0.9009);transform-origin:left center;">Size in USD</div>
<div class="b" style="left:1819.6px;top:715.6px;width:12.5px;height:2.0px;background:#fff;border-radius:0px;"></div>
<div class="b" style="left:1441.0px;top:752.6px;width:393.0px;height:63.4px;background:#4f8658;border-radius:32px;"></div>
<div class="t" style="left:1567.5px;top:772.2px;font-size:21px;font-weight:400;color:#16283a;letter-spacing:0.66px;">Enter Amount</div>
<div class="t" style="left:1428.8px;top:870.9px;font-size:16px;font-weight:400;color:#8d94a8;letter-spacing:0.00px;transform:scaleX(0.9651);transform-origin:left center;">Entry price</div>
<div class="t" style="left:1788.0px;top:870.9px;font-size:16px;font-weight:400;color:#e6e8ef;letter-spacing:0.00px;transform:scaleX(0.9735);transform-origin:left center;">$104.57</div>
<div class="t" style="left:1428.8px;top:897.7px;font-size:16px;font-weight:400;color:#8d94a8;letter-spacing:-0.20px;">Borrow rate</div>
<div class="t" style="left:1763.4px;top:897.7px;font-size:16px;font-weight:400;color:#e6e8ef;letter-spacing:-0.10px;">0.0071%/hr</div>
<div class="t" style="left:1428.8px;top:925.2px;font-size:16px;font-weight:400;color:#8d94a8;letter-spacing:-0.07px;">Available liquidity</div>
<div class="t" style="left:1746.2px;top:925.2px;font-size:16px;font-weight:400;color:#e6e8ef;letter-spacing:0.00px;transform:scaleX(0.9589);transform-origin:left center;">$1,000,000.00</div>
</div></body></html>
